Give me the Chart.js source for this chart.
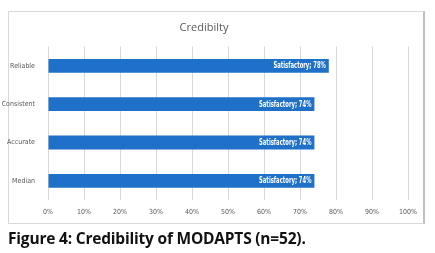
<!DOCTYPE html>
<html><head><meta charset="utf-8">
<script src="https://cdn.jsdelivr.net/npm/chart.js@4"></script>
<style>
html,body{margin:0;padding:0;background:#fff;}
#box{position:absolute;left:8px;top:11px;width:414px;height:211px;border:1px solid #d9d9d9;border-right:2px solid #bfbfbf;}
#cv{position:absolute;left:0;top:0;}
#cap{position:absolute;left:8px;top:227px;font:bold 15.5px "Open Sans",sans-serif;color:#111;letter-spacing:-0.2px;white-space:nowrap;}
</style></head><body>
<div id="box"></div>
<canvas id="cv" width="435" height="228"></canvas>
<div id="cap">Figure 4: Credibility of MODAPTS (n=52).</div>
<script>
const categories = ["Reliable","Consistent","Accurate","Median"];
const ratingLabel = ["Satisfactory","Satisfactory","Satisfactory","Satisfactory"];
const values = [78,74,74,74];
const xTicks = [0,10,20,30,40,50,60,70,80,90,100];

const narrow = '"DejaVu Sans Condensed", sans-serif';

const labelPlugin = {
  id:'inLabels',
  afterDatasetsDraw(chart){
    const ctx = chart.ctx;
    const meta = chart.getDatasetMeta(0);
    const sx = 0.73;
    ctx.save();
    ctx.font = 'bold 8px ' + narrow;
    ctx.fillStyle = '#fff';
    ctx.textAlign = 'right';
    ctx.textBaseline = 'middle';
    meta.data.forEach((bar,i)=>{
      ctx.save();
      ctx.translate(bar.x - 3, bar.y + 0.5);
      ctx.scale(sx,1);
      ctx.fillText(ratingLabel[i] + '; ' + values[i] + '%', 0, 0);
      ctx.restore();
    });
    ctx.restore();
  }
};

new Chart(document.getElementById('cv'),{
  type:'bar',
  data:{labels:categories,datasets:[{data:values,backgroundColor:'#1f70c9',borderWidth:0,barPercentage:0.36,categoryPercentage:1}]},
  options:{
    indexAxis:'y',responsive:false,animation:false,devicePixelRatio:1,
    layout:{padding:{left:0,right:27,top:0,bottom:6}},
    plugins:{legend:{display:false},tooltip:{enabled:false},
      title:{display:true,text:'Credibilty',color:'#595959',font:{family:'"Open Sans", sans-serif',size:11,weight:'normal'},padding:{top:21.5,bottom:12}}},
    scales:{
      x:{min:0,max:100,afterBuildTicks(ax){ax.ticks = xTicks.map(v=>({value:v}));},
        ticks:{callback:v=>v+'%',color:'#595959',font:{family:narrow,size:7},padding:8,maxRotation:0},
        grid:{color:'#d9d9d9',drawTicks:false},border:{display:false},
        afterFit(ax){ax.height=22;}},
      y:{ticks:{color:'#595959',font:{family:narrow,size:7},padding:5},
        grid:{display:false},border:{display:false},
        afterFit(ax){ax.width=48;}}
    }
  },
  plugins:[labelPlugin]
});
</script>
</body></html>
